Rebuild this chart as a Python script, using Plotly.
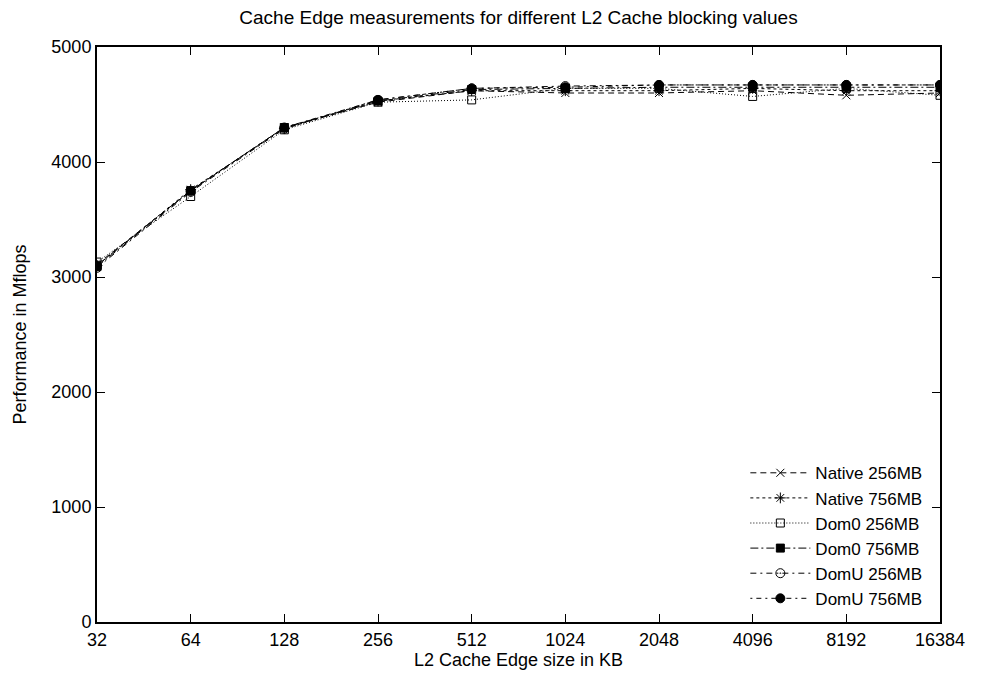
import plotly.graph_objects as go

edge_kb = [32, 64, 128, 256, 512, 1024, 2048, 4096, 8192, 16384]
tick_labels = ["32", "64", "128", "256", "512", "1024", "2048", "4096", "8192", "16384"]

native_256 = [3110, 3750, 4300, 4520, 4620, 4600, 4600, 4620, 4580, 4600]
native_756 = [3100, 3760, 4290, 4530, 4620, 4620, 4620, 4640, 4620, 4620]
dom0_256 = [3130, 3700, 4280, 4520, 4540, 4640, 4640, 4570, 4640, 4580]
dom0_756 = [3090, 3750, 4300, 4530, 4630, 4640, 4650, 4650, 4650, 4650]
domu_256 = [3080, 3740, 4290, 4540, 4640, 4660, 4670, 4670, 4670, 4670]
domu_756 = [3100, 3750, 4300, 4540, 4640, 4650, 4670, 4670, 4670, 4670]

series = [
    ("Native 256MB", native_256, "6px,4px", "x-thin-open", 8),
    ("Native 756MB", native_756, "3px,3px", "asterisk-open", 9),
    ("Dom0 256MB", dom0_256, "1px,2px", "square-open", 8),
    ("Dom0 756MB", dom0_756, "8px,3px,2px,3px", "square", 8),
    ("DomU 256MB", domu_256, "6px,4px,2px,4px", "circle-open-dot", 9),
    ("DomU 756MB", domu_756, "2px,4px,5px,4px", "circle", 9),
]

FONT = "Liberation Sans, Arial, Helvetica, sans-serif"

fig = go.Figure()
for name, vals, dash, sym, size in series:
    fig.add_trace(go.Scatter(
        x=edge_kb, y=vals, name=name, mode="lines+markers",
        line=dict(color="black", width=1, dash=dash),
        marker=dict(symbol=sym, size=size, color="black",
                    line=dict(color="black", width=1)),
    ))

axis_common = dict(
    showline=True, linecolor="black", linewidth=2, mirror="ticks",
    ticks="inside", ticklen=8, tickwidth=1, tickcolor="black",
    showgrid=False, zeroline=False,
    tickfont=dict(family=FONT, size=18, color="black"),
)

fig.update_layout(
    width=982, height=680,
    margin=dict(l=97, r=42, t=47, b=58),
    paper_bgcolor="white", plot_bgcolor="white",
    font=dict(family=FONT, size=18, color="black"),
    title=dict(text="Cache Edge measurements for different L2 Cache blocking values",
               x=0.528, xanchor="center", y=0.974, yanchor="middle",
               font=dict(family=FONT, size=19, color="black")),
    xaxis=dict(type="log", range=[1.50515, 4.21442],
               tickvals=edge_kb, ticktext=tick_labels,
               title=dict(text="L2 Cache Edge size in KB", standoff=5,
                          font=dict(family=FONT, size=18)),
               **axis_common),
    yaxis=dict(range=[0, 5000], dtick=1000,
               title=dict(text="Performance in Mflops", standoff=20,
                          font=dict(family=FONT, size=18)),
               **axis_common),
    legend=dict(x=0.985, xanchor="right", y=0.01, yanchor="bottom",
                bgcolor="rgba(0,0,0,0)", borderwidth=0,
                font=dict(family=FONT, size=17, color="black"),
                itemwidth=60, tracegroupgap=0),
    showlegend=True,
)

fig.write_html("out.html")
